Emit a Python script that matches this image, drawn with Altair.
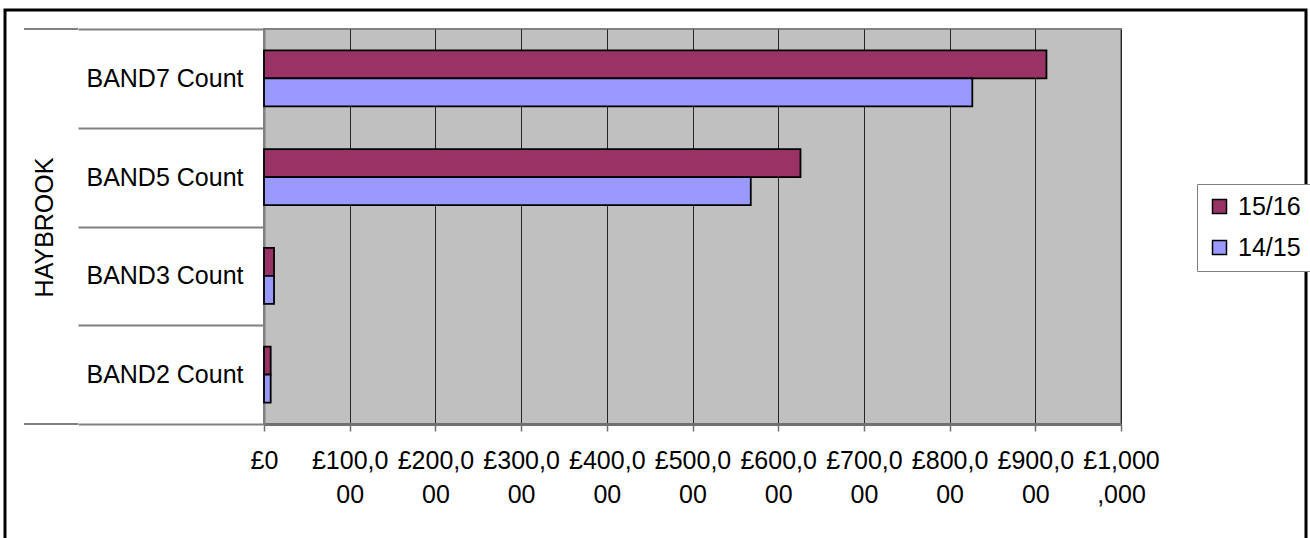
import altair as alt
import pandas as pd

bands = ["BAND7 Count", "BAND5 Count", "BAND3 Count", "BAND2 Count"]
series = ["15/16", "14/15"]
values_1516 = [913000, 626000, 11700, 7800]
values_1415 = [826500, 568000, 11700, 7800]
x_ticks = [0, 100000, 200000, 300000, 400000, 500000, 600000, 700000, 800000, 900000, 1000000]
group_title = "HAYBROOK"
colors = ["#993366", "#9999FF"]

rows = []
for b, v1, v2 in zip(bands, values_1516, values_1415):
    rows.append({"band": b, "series": "15/16", "value": v1})
    rows.append({"band": b, "series": "14/15", "value": v2})
df = pd.DataFrame(rows)

FONT = "Liberation Sans"
W, H = 857, 395
LEFT, TOP = 264, 29

label_expr = ("datum.value == 0 ? '£0' : "
              "[substring('£' + format(datum.value, ','), 0, 6), "
              "substring('£' + format(datum.value, ','), 6)]")

bars = alt.Chart(df).mark_bar(stroke="black", strokeWidth=1.8).encode(
    x=alt.X("value:Q",
            scale=alt.Scale(domain=[0, 1000000], nice=False, zero=True),
            axis=alt.Axis(values=x_ticks, labelExpr=label_expr, title=None,
                          grid=True, gridColor="#262626", gridWidth=1,
                          domainColor="#707070", domainWidth=3,
                          tickColor="#707070", tickWidth=1.5, tickSize=7,
                          labelFontSize=25, labelFont=FONT, labelColor="black",
                          labelPadding=17, labelLineHeight=34,
                          labelFlush=False, labelOverlap=False, labelBound=False)),
    y=alt.Y("band:N", sort=bands,
            scale=alt.Scale(paddingInner=0, paddingOuter=0),
            axis=alt.Axis(title=group_title, tickBand="extent", tickSize=186,
                          tickColor="#808080", tickWidth=2,
                          domainColor="#808080", domainWidth=2,
                          labelFontSize=25, labelFont=FONT, labelColor="black",
                          labelPadding=-165, labelAlign="right", labelBaseline="middle",
                          labelLimit=300,
                          titleFontSize=25, titleFont=FONT, titleFontWeight="normal",
                          titleColor="black", titleAngle=270, titleX=-220, titleY=198,
                          titleAlign="center", titleBaseline="middle")),
    yOffset=alt.YOffset("series:N", sort=series,
                        scale=alt.Scale(paddingInner=0, paddingOuter=0.763)),
    color=alt.Color("series:N", sort=series,
                    scale=alt.Scale(domain=series, range=colors),
                    legend=alt.Legend(title=None, orient="none", legendX=933, legendY=155,
                                      padding=10, strokeColor="#808080", fillColor="white",
                                      labelFontSize=25, labelFont=FONT, labelColor="black",
                                      symbolType="square", symbolSize=196,
                                      symbolStrokeColor="black", symbolStrokeWidth=1.5,
                                      symbolOpacity=1, rowPadding=15, labelOffset=6)),
)

one = pd.DataFrame({"k": [0]})
top_ext = alt.Chart(one).mark_rule(color="#808080", strokeWidth=2).encode(
    x=alt.value(-240), x2=alt.value(-186), y=alt.value(0))
bot_ext = alt.Chart(one).mark_rule(color="#808080", strokeWidth=2).encode(
    x=alt.value(-240), x2=alt.value(-186), y=alt.value(H))
border = alt.Chart(one).mark_rect(filled=False, stroke="black", strokeWidth=3).encode(
    x=alt.value(5 - LEFT), x2=alt.value(1306 - LEFT),
    y=alt.value(10 - TOP), y2=alt.value(580 - TOP))

chart = alt.layer(bars, top_ext, bot_ext, border).properties(
    width=W, height=H,
    autosize=alt.AutoSizeParams(type="none"),
    padding={"left": LEFT, "top": TOP, "right": 1310 - LEFT - W, "bottom": 538 - TOP - H},
    background="white",
).configure_view(fill="#C0C0C0", stroke="#808080", strokeWidth=2)

chart.save("out.html", embed_options={"renderer": "svg", "actions": False})
